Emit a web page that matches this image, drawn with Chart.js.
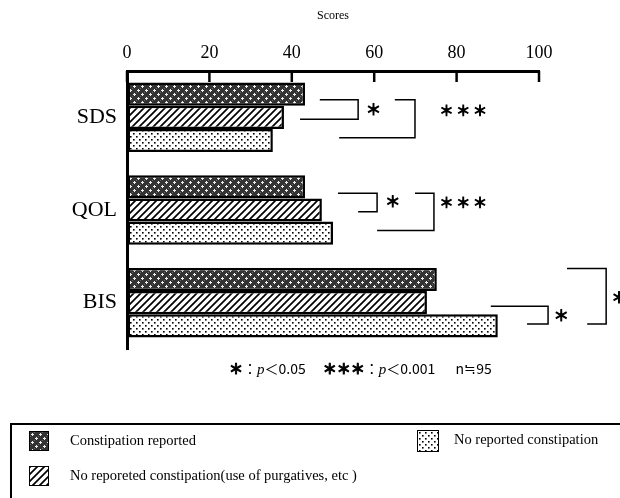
<!DOCTYPE html>
<html>
<head>
<meta charset="utf-8">
<script src="https://cdn.jsdelivr.net/npm/chart.js@4/dist/chart.umd.min.js"></script>
<style>
  html, body { margin: 0; padding: 0; background: #fff; }
  #wrap { position: relative; width: 620px; height: 498px; overflow: hidden; font-family: "Liberation Serif", serif; }
  #chart { position: absolute; left: 0; top: 0; }
  #note { position: absolute; left: 229px; top: 358px; font-family: "Noto Sans CJK JP", sans-serif; font-size: 14px; white-space: pre; color: #000; }
  #note b { -webkit-text-stroke: 1px #000; }
  #note i { font-family: "Liberation Serif", serif; font-size: 15px; }
  #legend { position: absolute; left: 10px; top: 423px; width: 660px; height: 120px; border: 2px solid #000; }
  .item { position: absolute; font-size: 14.5px; color: #000; white-space: nowrap; }
  .item canvas { position: absolute; left: 0; top: 0; border: 1.5px solid #000; box-sizing: border-box; }
  .item span { position: absolute; top: 0; line-height: 18px; }
</style>
</head>
<body>
<div id="wrap">
  <canvas id="chart" width="620" height="498"></canvas>
  <div id="note"><b>＊</b>：<i>p</i>＜0.05　 <b>＊＊＊</b>：<i>p</i>＜0.001　  n≒95</div>
  <div id="legend"></div>
</div>
<script>
// values (scores)
const categories     = ["SDS", "QOL", "BIS"];
const constipation   = [43.2, 43.2, 75.2];
const purgatives     = [38.1, 47.3, 72.8];
const noConstipation = [35.4, 50.0, 90.0];
const seriesNames = [
  "Constipation reported",
  "No reporeted constipation(use of purgatives, etc )",
  "No reported constipation"
];
const tickValues = [0, 20, 40, 60, 80, 100];

// significance brackets, in data units (x = score, y = category index + offset)
const brackets = [
  { cat: 0, y1: -0.19, y2: 0.02, xTop: 46.8, xBot: 42.0, xV: 56.1, label: "＊",     lx: 59.8,  ly: -0.09 },
  { cat: 0, y1: -0.19, y2: 0.22, xTop: 65.0, xBot: 51.5, xV: 69.9, label: "＊\u2009＊\u2009＊", lx: 81.6,  ly: -0.08 },
  { cat: 1, y1: -0.18, y2: 0.02, xTop: 51.2, xBot: 56.1, xV: 60.7, label: "＊",     lx: 64.5,  ly: -0.09 },
  { cat: 1, y1: -0.18, y2: 0.22, xTop: 69.9, xBot: 60.7, xV: 74.5, label: "＊\u2009＊\u2009＊", lx: 81.6,  ly: -0.09 },
  { cat: 2, y1: 0.04,  y2: 0.23, xTop: 88.3, xBot: 97.1, xV: 102.2, label: "＊",    lx: 105.4, ly: 0.14 },
  { cat: 2, y1: -0.37, y2: 0.23, xTop: 106.8, xBot: 111.7, xV: 116.3, label: "＊",  lx: 119.4, ly: -0.06 }
];

function makePattern(kind) {
  const c = document.createElement("canvas");
  const g = c.getContext("2d");
  if (kind === "dark") {
    c.width = 8; c.height = 8;
    g.fillStyle = "#333"; g.fillRect(0, 0, 8, 8);
    g.fillStyle = "#666"; g.fillRect(0, 4, 1, 1); g.fillRect(4, 0, 1, 1);
    g.fillStyle = "#eee";
    [[2, 2], [6, 6]].forEach(([x, y]) => {
      g.fillRect(x - 1, y, 3, 1);
      g.fillRect(x, y - 1, 1, 3);
    });
  } else if (kind === "hatch") {
    c.width = 7; c.height = 7;
    g.fillStyle = "#fff"; g.fillRect(0, 0, 7, 7);
    g.strokeStyle = "#000"; g.lineWidth = 1.7;
    g.beginPath();
    g.moveTo(-1, 8); g.lineTo(8, -1);
    g.moveTo(-5, 5); g.lineTo(5, -5);
    g.moveTo(2, 12); g.lineTo(12, 2);
    g.stroke();
  } else {
    c.width = 6; c.height = 6;
    g.fillStyle = "#fff"; g.fillRect(0, 0, 6, 6);
    g.fillStyle = "#000";
    g.fillRect(1, 1, 1.6, 1.6);
    g.fillRect(4, 4, 1.6, 1.6);
  }
  return c;
}

const ctx = document.getElementById("chart").getContext("2d");
const fills = ["dark", "hatch", "dots"].map(k => ctx.createPattern(makePattern(k), "repeat"));

const bracketPlugin = {
  id: "brackets",
  afterDraw(chart) {
    const x = chart.scales.x, y = chart.scales.y, g = chart.ctx;
    g.save();
    // inward tick marks on the top axis
    g.strokeStyle = "#000"; g.lineWidth = 2.5;
    tickValues.forEach(v => {
      const px = x.getPixelForValue(v);
      g.beginPath(); g.moveTo(px, chart.chartArea.top); g.lineTo(px, chart.chartArea.top + 11); g.stroke();
    });
    g.fillStyle = "#000"; g.textAlign = "center"; g.textBaseline = "middle";
    brackets.forEach(b => {
      const yT = y.getPixelForValue(b.cat + b.y1), yB = y.getPixelForValue(b.cat + b.y2);
      const xv = x.getPixelForValue(b.xV);
      g.lineWidth = 1.5;
      g.beginPath();
      g.moveTo(x.getPixelForValue(b.xTop), yT);
      g.lineTo(xv, yT);
      g.lineTo(xv, yB);
      g.lineTo(x.getPixelForValue(b.xBot), yB);
      g.stroke();
      g.font = (b.label.length > 1 ? "14px" : "15px") + " 'Noto Sans CJK JP'";
      const lx = x.getPixelForValue(b.lx), ly = y.getPixelForValue(b.cat + b.ly);
      g.fillText(b.label, lx, ly);
      g.lineWidth = 1.1;
      g.strokeText(b.label, lx, ly);
    });
    g.restore();
  }
};

new Chart(ctx, {
  type: "bar",
  data: {
    labels: categories,
    datasets: [constipation, purgatives, noConstipation].map((d, i) => ({
      label: seriesNames[i],
      data: d,
      backgroundColor: fills[i],
      borderColor: "#000",
      borderWidth: 2.5,
      borderSkipped: false,
      categoryPercentage: 0.75,
      barPercentage: 1
    }))
  },
  options: {
    indexAxis: "y",
    responsive: false,
    animation: false,
    layout: { padding: { left: 0, right: 81, top: 0, bottom: 149 } },
    plugins: { legend: { display: false }, tooltip: { enabled: false } },
    scales: {
      x: {
        position: "top",
        min: 0, max: 100,
        afterFit: s => { s.height = 71; },
        afterBuildTicks: s => { s.ticks = tickValues.map(v => ({ value: v })); },
        grid: { drawOnChartArea: false, drawTicks: false },
        border: { display: true, color: "#000", width: 3 },
        ticks: { color: "#000", padding: 7, font: { family: "Liberation Serif", size: 18 } },
        title: { display: true, text: "Scores", color: "#000", padding: { top: 9, bottom: 0 },
                 font: { family: "Liberation Serif", size: 12 } }
      },
      y: {
        afterFit: s => { s.width = 127; },
        grid: { drawOnChartArea: false, drawTicks: false },
        border: { display: true, color: "#000", width: 3 },
        ticks: { color: "#000", padding: 10, font: { family: "Liberation Serif", size: 22 } }
      }
    }
  },
  plugins: [bracketPlugin]
});

// legend box below the chart
const legendItems = [
  { idx: 0, left: 17,  top: 6 },
  { idx: 2, left: 405, top: 5 },
  { idx: 1, left: 17,  top: 41 }
];
const legend = document.getElementById("legend");
legendItems.forEach(it => {
  const d = document.createElement("div");
  d.className = "item";
  d.style.left = it.left + "px"; d.style.top = it.top + "px";
  const sw = document.createElement("canvas");
  const w = it.idx === 2 ? 20 : 18, h = it.idx === 2 ? 20 : 18;
  sw.width = w; sw.height = h;
  const g = sw.getContext("2d");
  g.fillStyle = g.createPattern(makePattern(["dark", "hatch", "dots"][it.idx]), "repeat");
  g.fillRect(0, 0, w, h);
  d.appendChild(sw);
  const t = document.createElement("span");
  t.textContent = seriesNames[it.idx];
  t.style.left = (it.idx === 2 ? 37 : 41) + "px";
  d.appendChild(t);
  legend.appendChild(d);
});
</script>
</body>
</html>
